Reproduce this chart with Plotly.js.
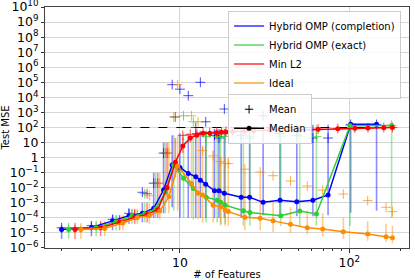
<!DOCTYPE html>
<html><head><meta charset="utf-8">
<script src="https://cdn.plot.ly/plotly-3.0.1.min.js"></script>
<style>html,body{margin:0;padding:0;background:#fff}#c{width:415px;height:280px}</style>
</head><body><div id="c"></div>
<script>
// Hybrid OMP (completion)
const xBlue   = [2,3,4,5,6,7,8,9,10,11.2,12.4,13.2,14.2,16,17,18.3,23,25.8,31,39,49,61,75,102,145];
const medBlue = [1.7e-5,2.3e-5,6.3e-5,1.4e-4,2e-4,4.3e-4,7e-3,0.32,0.22,0.089,0.054,0.032,0.017,6.3e-3,6.3e-3,4.3e-3,2.3e-3,2.3e-3,1.07e-3,1.45e-3,1.17e-3,1.5e-3,3.3e-3,162,162];
const meanBlue= [2.2e-5,3e-5,8e-5,2e-4,5e-3,0.02,2,7e4,3.5e4,1.3e4,100,1e5,240,30,20,1700,30,20,600,40,30,20,20,160,160];
const loBlue  = [4e-6,6e-6,1.5e-5,4e-5,5e-5,1e-4,2e-4,5e-4,1e-4,1e-4,1e-4,1e-4,1e-4,1e-4,1e-4,1e-4,1e-4,1e-4,1.5e-4,1.5e-4,1.3e-4,1.3e-4,1.5e-4,2.2e-4,3e-4];
const hiBlue  = [3.2e-5,5e-5,1.5e-4,4e-4,1e-3,0.1,10,30,40,40,60,60,60,80,80,80,100,100,150,150,150,150,150,160,170];
// Hybrid OMP (exact)
const xGreen   = [2.2,3.2,4.2,5.2,6.2,7.2,8.2,9.2,10.5,12,14.3,16.6,17.4,18.5,23.7,25.9,39.4,51,64,101,178];
const medGreen = [1.7e-5,2.2e-5,5.6e-5,1.26e-4,1.9e-4,4e-4,5e-3,0.32,0.043,9e-3,2.3e-3,1.5e-3,1.07e-3,7e-4,3e-4,2.3e-4,1.4e-4,2.8e-4,1.8e-4,132,138];
const meanGreen= [2.2e-5,3e-5,7e-5,1.8e-4,4e-3,0.02,2,500,600,240,25,25,25,25,30,25,25,25,25,140,140];
const loGreen  = [4e-6,6e-6,1.5e-5,4e-5,5e-5,1e-4,2e-4,3e-4,1e-4,8e-5,5e-5,5e-5,4e-5,4e-5,3e-5,3e-5,3e-5,3e-5,3e-5,3e-5,1e-4];
const hiGreen  = [3.2e-5,5e-5,1.5e-4,4e-4,1e-3,0.1,10,30,40,40,60,80,80,80,100,100,150,150,150,150,150];
// Min L2
const xRed   = [2.4,3.4,4.4,5.4,6.4,7.4,8.4,9.4,10.4,11.5,12.6,13.7,15,16.5,17.6,18.7,20.5,24.2,27.2,33.9,49.9,65.5,85.6,108,129,160,180];
const medRed = [1.7e-5,2.2e-5,5.2e-5,1.1e-4,1.7e-4,3.5e-4,0.01,0.5,6,20,32,41,41,45,48,50,52,62,62,68,68,76,83,89,93,98,100];
const meanRed= [2.2e-5,3e-5,7e-5,1.6e-4,4e-3,0.02,2,500,30,35,40,45,45,50,50,55,55,65,65,70,70,78,85,90,95,100,100];
const loRed  = [4e-6,6e-6,1.5e-5,4e-5,5e-5,1e-4,3e-3,0.05,2,10,20,30,30,35,38,40,42,50,52,58,60,68,75,82,86,92,95];
const hiRed  = [3.2e-5,5e-5,1.5e-4,4e-4,1e-3,0.1,10,20,20,30,45,55,55,60,60,62,64,75,75,80,80,86,92,98,100,105,106];
// Ideal
const xOrange   = [2.6,3.6,4.6,5.6,6.6,7.6,8.6,9.7,11.7,12.8,13.6,15.7,17.4,18.5,19.3,24.2,29.8,35.5,45,56.5,69.7,92.3,128.5,165,180];
const medOrange = [1.66e-5,2e-5,4.5e-5,1e-4,1.4e-4,2.8e-4,2.5e-3,0.28,0.019,4.3e-3,3.3e-3,7e-4,5.5e-4,3.3e-4,2.6e-4,1.1e-4,9.3e-5,6.3e-5,3.7e-5,2.2e-5,1.8e-5,1.2e-5,8.5e-6,5.6e-6,4.8e-6];
const meanOrange= [2.1e-5,2.8e-5,6.5e-5,1.5e-4,3e-3,0.02,2,7e4,600,240,3,1.3,0.54,0.42,0.4,0.17,0.11,0.063,0.028,0.013,7e-3,3.8e-3,1.4e-3,5e-4,2.6e-4];
const loOrange  = [4e-6,6e-6,1.5e-5,4e-5,4e-5,8e-5,2e-4,3e-4,1e-4,8e-5,5e-5,5e-5,3e-5,3e-5,3e-5,1.5e-5,1.5e-5,1.2e-5,1e-5,8e-6,6e-6,4e-6,3e-6,2.5e-6,2e-6];
const hiOrange  = [3.2e-5,5e-5,1.5e-4,4e-4,1e-3,0.1,10,30,30,20,5,3,1,1,1,0.1,0.05,1e-3,5e-4,3e-4,2e-4,1e-4,6e-5,4e-5,3e-5];
// reference level
const xRef = [2.8,185];
const yRef = [100,100];

const series = [
  {name:'Hybrid OMP (completion)', x:xBlue, med:medBlue, mean:meanBlue, lo:loBlue, hi:hiBlue, c:'0,0,255'},
  {name:'Hybrid OMP (exact)', x:xGreen, med:medGreen, mean:meanGreen, lo:loGreen, hi:hiGreen, c:'50,205,50'},
  {name:'Min L2', x:xRed, med:medRed, mean:meanRed, lo:loRed, hi:hiRed, c:'255,0,0'},
  {name:'Ideal', x:xOrange, med:medOrange, mean:meanOrange, lo:loOrange, hi:hiOrange, c:'255,140,0'}
];
const traces = [];
series.forEach(s=>{
  traces.push({x:s.x, y:s.med, mode:'markers', marker:{size:1,opacity:0}, showlegend:false, hoverinfo:'skip',
    error_y:{type:'data', symmetric:false, array:s.hi.map((h,i)=>h-s.med[i]), arrayminus:s.med.map((m,i)=>m-s.lo[i]),
      color:'rgba('+s.c+',0.45)', thickness:1.6, width:0}});
});
traces.push({x:xRef, y:yRef, mode:'lines', line:{color:'#000', width:1.2, dash:'dash'}, showlegend:false});
series.forEach(s=>{
  traces.push({x:s.x, y:s.mean, mode:'markers', marker:{symbol:'cross-thin', size:7, line:{width:1, color:'rgba('+s.c+',0.7)'}}, showlegend:false});
});
series.forEach(s=>{
  traces.push({x:s.x, y:s.med, mode:'lines+markers', line:{color:'rgb('+s.c+')', width:1.5}, marker:{size:5, color:'rgb('+s.c+')'}, showlegend:false});
});
series.forEach(s=>{
  traces.push({x:[null], y:[null], mode:'lines', name:s.name, line:{color:'rgba('+s.c+',0.8)', width:1.5}, legend:'legend'});
});
traces.push({x:[null], y:[null], mode:'markers', name:'Mean', marker:{symbol:'cross-thin', size:6, line:{width:1,color:'#000'}}, legend:'legend2'});
traces.push({x:[null], y:[null], mode:'lines+markers', name:'Median', line:{color:'#000', width:1.5}, marker:{size:5,color:'#000'}, legend:'legend2'});

const font = {family:'DejaVu Sans', size:10, color:'#000'};
const layout = {
  width:415, height:280, margin:{l:45, r:6, t:7, b:32},
  paper_bgcolor:'#fff', plot_bgcolor:'#fff', font:font,
  xaxis:{type:'log', range:[0.203,2.353], dtick:1, exponentformat:'power', showgrid:true, gridcolor:'#d6d6d6', gridwidth:1,
    ticks:'outside', ticklen:3.5, tickcolor:'#333', showline:true, mirror:true, linecolor:'#444', linewidth:1, zeroline:false,
    minor:{ticks:'outside', ticklen:2, tickcolor:'#333', showgrid:false},
    title:{text:'# of Features', font:{family:'DejaVu Sans', size:10}, standoff:4}},
  yaxis:{type:'log', range:[-6.002,10.002], dtick:1, exponentformat:'power', showgrid:true, gridcolor:'#d6d6d6', gridwidth:1,
    ticklabeloverflow:'allow', ticklabelshift:-4.5,
    ticks:'outside', ticklen:3.5, tickcolor:'#333', showline:true, mirror:true, linecolor:'#444', linewidth:1, zeroline:false,
    title:{text:'Test MSE', font:{family:'DejaVu Sans', size:10}, standoff:4}},
  legend:{x:0.503, y:0.985, xanchor:'left', yanchor:'top', bgcolor:'rgba(255,255,255,0.85)', bordercolor:'#ccc', borderwidth:1, font:{family:'DejaVu Sans', size:10}, tracegroupgap:0},
  legend2:{x:0.503, y:0.64, xanchor:'left', yanchor:'top', bgcolor:'rgba(255,255,255,0.85)', bordercolor:'#ccc', borderwidth:1, font:{family:'DejaVu Sans', size:10}},
  showlegend:true
};
Plotly.newPlot('c', traces, layout, {staticPlot:true});
</script></body></html>
